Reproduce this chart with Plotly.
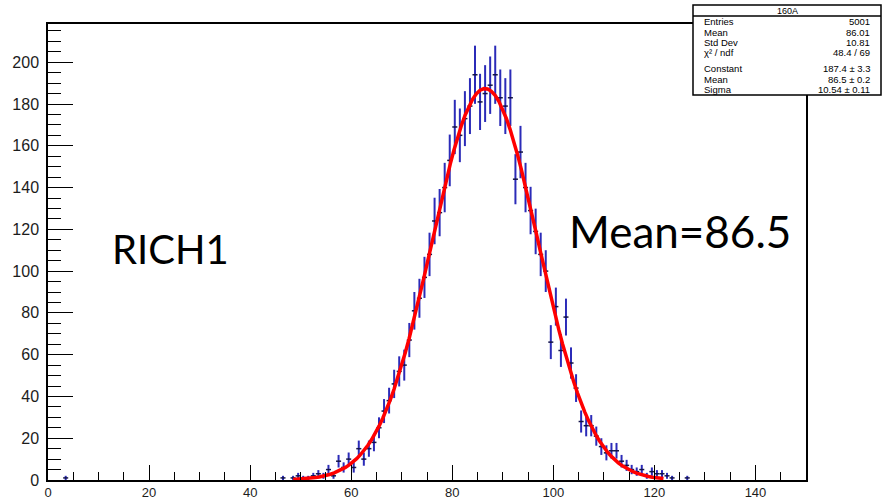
import numpy as np
import plotly.graph_objects as go

# ---------------- data ----------------
bin_low = list(range(0, 150))           # bin lower edges, width 1
counts_by_bin = {
    3: 1,
    46: 1, 47: 0, 48: 1, 49: 2, 50: 1, 51: 1, 52: 2, 53: 3, 54: 2, 55: 5,
    56: 2, 57: 9, 58: 6, 59: 10, 60: 6, 61: 15, 62: 10, 63: 15, 64: 18, 65: 25,
    66: 33, 67: 38, 68: 46, 69: 52, 70: 55, 71: 67, 72: 81, 73: 87, 74: 97, 75: 108,
    76: 124, 77: 128, 78: 140, 79: 153, 80: 169, 81: 165, 82: 173, 83: 179, 84: 194,
    85: 181, 86: 185, 87: 189, 88: 194, 89: 183, 90: 179, 91: 183, 92: 144, 93: 157,
    94: 140, 95: 129, 96: 119, 97: 108, 98: 100, 99: 66, 100: 83, 101: 62, 102: 78,
    103: 56, 104: 44, 105: 28, 106: 26, 107: 26, 108: 21, 109: 16, 110: 13, 111: 14,
    112: 14, 113: 9, 114: 7, 115: 5, 116: 4, 117: 5, 118: 2, 119: 4, 120: 3, 121: 3,
    122: 2, 123: 1, 126: 1,
}
counts = [counts_by_bin.get(b, 0) for b in bin_low]

# fit parameters shown in the stats box (gaussian)
fit_constant = 187.4
fit_mean = 86.5
fit_sigma = 10.54
fit_range = [48.5, 121.8]

stats_title = "160A"
stats_labels = ["Entries", "Mean", "Std Dev", "χ² / ndf", "Constant", "Mean", "Sigma"]
stats_values = ["5001", "86.01", "10.81", "48.4 / 69", "187.4 ± 3.3", "86.5 ± 0.2", "10.54 ± 0.11"]

x_ticks = [0, 20, 40, 60, 80, 100, 120, 140]
y_ticks = [0, 20, 40, 60, 80, 100, 120, 140, 160, 180, 200]

# ---------------- layout geometry ----------------
W, H = 882, 500
L, R, T, B = 48, 806, 24, 480     # plot frame in pixels
X_MAX, Y_MAX = 150, 218.3


def px(xpix):
    return (xpix - L) / (R - L)


def py(ypix):
    return (B - ypix) / (B - T)


def dx(xpix):
    return (xpix - L) / (R - L) * X_MAX


def dy(ypix):
    return (B - ypix) / (B - T) * Y_MAX


# ---------------- marks ----------------
xs = [b + 0.5 for b, c in zip(bin_low, counts) if c > 0]
ys = [c for c in counts if c > 0]
ey = [np.sqrt(c) for c in ys]
ex = [0.5 for _ in ys]

fig = go.Figure()
fig.add_trace(go.Scatter(
    x=xs, y=ys, mode="markers",
    marker=dict(size=1, color="#101040"),
    error_y=dict(type="data", array=ey, visible=True, color="#2b2bb8", thickness=2, width=0),
    error_x=dict(type="data", array=ex, visible=True, color="#15154a", thickness=1.5, width=0),
    hoverinfo="skip", showlegend=False,
))

fx = np.linspace(fit_range[0], fit_range[1], 100)
fy = fit_constant * np.exp(-0.5 * ((fx - fit_mean) / fit_sigma) ** 2)
fig.add_trace(go.Scatter(x=fx, y=fy, mode="lines", line=dict(color="#ff0000", width=3.5),
                         hoverinfo="skip", showlegend=False))

axis_common = dict(
    showline=True, linecolor="black", linewidth=1.5, mirror=True,
    showgrid=False, zeroline=False, automargin=False,
    ticks="inside", tickcolor="black", tickwidth=1.2,
)
fig.update_xaxes(range=[0, X_MAX], tickvals=x_ticks, ticklen=15, ticklabelstandoff=0,
                 tickfont=dict(family="Liberation Sans", size=13, color="#1c1c1c"),
                 minor=dict(dtick=5, tick0=0, ticklen=8, ticks="inside", tickcolor="black", tickwidth=1.2),
                 **axis_common)
fig.update_yaxes(range=[0, Y_MAX], tickvals=y_ticks, ticklen=25, ticklabelstandoff=4,
                 tickfont=dict(family="Liberation Sans", size=16, color="#1c1c1c"),
                 minor=dict(dtick=5, tick0=0, ticklen=13, ticks="inside", tickcolor="black", tickwidth=1.2),
                 **axis_common)

shapes = [
    dict(type="rect", xref="paper", yref="paper", x0=px(693), x1=px(881), y0=py(95), y1=py(5),
         line=dict(color="black", width=1.5), fillcolor="white", layer="above"),
    dict(type="line", xref="paper", yref="paper", x0=px(693), x1=px(881), y0=py(16), y1=py(16),
         line=dict(color="black", width=1.5), layer="above"),
]

annotations = [
    dict(text=stats_title, xref="paper", yref="paper", x=px(787), y=py(11), showarrow=False,
         xanchor="center", yanchor="middle", font=dict(family="Liberation Sans", size=9, color="black")),
    dict(text="RICH1", xref="x", yref="y", x=dx(110), y=dy(249), showarrow=False,
         xanchor="left", yanchor="middle", font=dict(family="Lato", size=40, color="black")),
    dict(text="Mean=86.5", xref="x", yref="y", x=dx(567), y=dy(231), showarrow=False,
         xanchor="left", yanchor="middle", font=dict(family="Lato", size=44, color="black")),
]
row_y = [21.7, 32.5, 42.5, 52.5, 68.3, 79, 89.5]
for lab, val, yy in zip(stats_labels, stats_values, row_y):
    annotations.append(dict(text=lab, xref="paper", yref="paper", x=px(702), y=py(yy), showarrow=False,
                            xanchor="left", yanchor="middle",
                            font=dict(family="Liberation Sans", size=9.5, color="black")))
    annotations.append(dict(text=val, xref="paper", yref="paper", x=px(872), y=py(yy), showarrow=False,
                            xanchor="right", yanchor="middle",
                            font=dict(family="Liberation Sans", size=9.5, color="black")))

fig.update_layout(
    width=W, height=H,
    margin=dict(l=L, r=W - R, t=T, b=H - B, pad=0),
    paper_bgcolor="white", plot_bgcolor="white",
    shapes=shapes, annotations=annotations,
)

fig.write_html("out.html")
